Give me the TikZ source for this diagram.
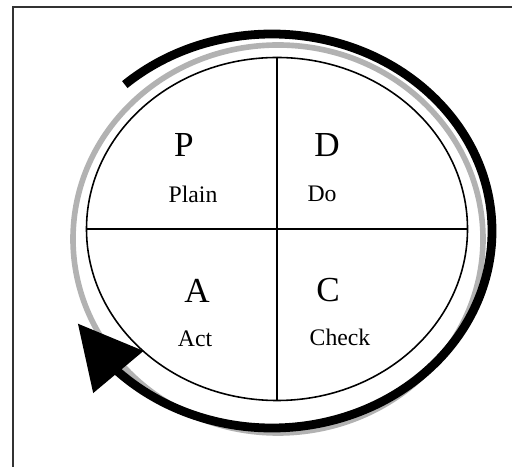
\documentclass[tikz,border=0pt]{standalone}
\usepackage{fontspec}
\setmainfont{Liberation Serif}
\usetikzlibrary{arrows.meta,bending,shapes.geometric}

\begin{document}
\begin{tikzpicture}[x=0.2mm,y=0.2mm,
  letter/.style={font=\fontsize{20}{24}\selectfont},
  word/.style={font=\fontsize{13.5}{16}\selectfont},
  thin line/.style={line width=0.9pt}]
\useasboundingbox (0,0) rectangle (512,467);
% frame, open to the right and below
\draw[line width=1.2pt,black!80] (512,460) -- (13,460) -- (13,0);
% shadow ring
\draw[line width=3.2pt,black!30] (278,228) ellipse[x radius=205,y radius=194];
% the four quarters
\node[draw,ellipse,thin line,minimum width=76.2mm,minimum height=68.6mm,inner sep=0pt] (cycle) at (277,238) {};
\draw[thin line] (cycle.north) -- (cycle.south);
\draw[thin line] (cycle.west) -- (cycle.east);
% turning arrow
\draw[line width=5pt,-{Triangle[length=36pt,width=36pt]}] (272,236) ++(132:220 and 197)
  arc[start angle=132,end angle=-152,x radius=220,y radius=197];
\node[letter] (p) at (184,322) {P};
\node[word] (plain) at (193,273) {Plain};
\node[letter] (d) at (327,322) {D};
\node[word] (do) at (322,273) {Do};
\node[letter] (a) at (197,176) {A};
\node[word] (act) at (195,128) {Act};
\node[letter] (c) at (328,177) {C};
\node[word] (check) at (340,130) {Check};
\end{tikzpicture}
\end{document}
